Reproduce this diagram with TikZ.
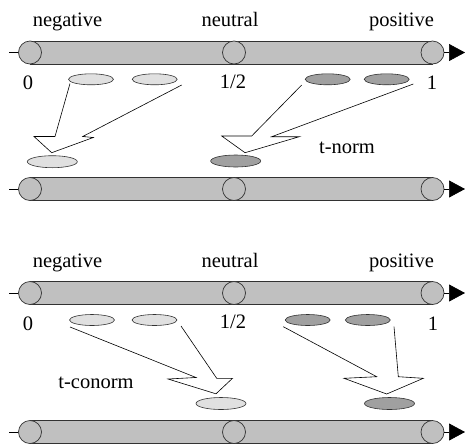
\documentclass[tikz,border=0pt]{standalone}
\usepackage{fontspec}
\setmainfont{Liberation Serif}
\usetikzlibrary{shapes.geometric,arrows.meta}
\definecolor{barfill}{RGB}{192,192,192}
\definecolor{lightfill}{RGB}{224,224,224}
\definecolor{darkfill}{RGB}{160,160,160}
\definecolor{edge}{RGB}{50,50,50}
\tikzset{
  capnode/.style={circle,draw=edge,fill=barfill,line width=0.7pt,minimum size=23pt,inner sep=0pt},
  lightell/.style={ellipse,draw=edge,fill=lightfill,line width=0.6pt,minimum width=45pt,minimum height=11pt,inner sep=0pt},
  darkell/.style={ellipse,draw=edge,fill=darkfill,line width=0.6pt,minimum width=45pt,minimum height=11pt,inner sep=0pt},
  lightbig/.style={lightell,minimum width=50pt,minimum height=12pt},
  darkbig/.style={darkell,minimum width=50pt,minimum height=12pt},
  lbl/.style={font=\fontsize{20.5}{23}\selectfont,inner sep=0pt,anchor=base},
  merge/.style={draw=black,line width=0.6pt,line join=miter},
  axisarrow/.style={draw=black,line width=0.7pt,-{Triangle[length=16pt,width=17pt]}}
}
\newcommand{\mybar}[2]{%
  \fill[barfill] (30,#2-11.5) rectangle (432.5,#2+11.5);
  \draw[edge,line width=0.7pt] (30,#2-11.5) -- (432.5,#2-11.5) (30,#2+11.5) -- (432.5,#2+11.5);
  \node[capnode] (#1l) at (30,#2) {};
  \node[capnode] (#1m) at (234,#2) {};
  \node[capnode] (#1r) at (432.5,#2) {};
  \coordinate (#1s) at (9,#2);
  \coordinate (#1e) at (465,#2);
  \draw[black,line width=0.7pt] (#1s) -- (#1l.west);
  \draw[axisarrow] (#1r.east) -- (#1e);
}
\begin{document}
\begin{tikzpicture}[x=1pt,y=-1pt]
\useasboundingbox (0,0) rectangle (465,445);
% ---------- section 1 (t-norm)
\node[lbl] (neg1) at (67.5,26) {negative};
\node[lbl] (neu1) at (230,26) {neutral};
\node[lbl] (pos1) at (401.5,26) {positive};
\mybar{ba}{52.5}
\node[lbl] (z1) at (28,89.5) {0};
\node[lbl] (h1) at (233,88) {1/2};
\node[lbl] (o1) at (432,89.5) {1};
\node[lightell] (a1) at (91,79.3) {};
\node[lightell] (a2) at (154.7,79.3) {};
\node[darkell] (a3) at (327.7,79.3) {};
\node[darkell] (a4) at (386.7,79.3) {};
\node[lightbig] (a5) at (52.3,161.7) {};
\node[darkbig] (a6) at (235.7,161) {};
\coordinate (m1s) at (70,83.5);
\coordinate (m1e) at (181.7,85);
\coordinate (m2s) at (301.7,85);
\coordinate (m2e) at (413.3,84);
\draw[merge] (m1s) -- (55,136.5) -- (34,136.5) -- (51.7,152.7) -- (93.3,137.5) -- (82.7,136.5) -- (m1e);
\draw[merge] (m2s) -- (251.7,136) -- (221.7,136) -- (245,152.7) -- (299.3,136.7) -- (271.7,136.7) -- (m2e);
\node[lbl] (tn) at (347,153.5) {t-norm};
\mybar{bb}{189}
% ---------- section 2 (t-conorm)
\node[lbl] (neg2) at (67.5,267) {negative};
\node[lbl] (neu2) at (230,267) {neutral};
\node[lbl] (pos2) at (401.5,267) {positive};
\mybar{bc}{293}
\node[lbl] (z2) at (28,330) {0};
\node[lbl] (h2) at (233,328.5) {1/2};
\node[lbl] (o2) at (433,330.5) {1};
\node[lightell] (c1) at (92,320) {};
\node[lightell] (c2) at (154.5,320) {};
\node[darkell] (c3) at (307.7,320) {};
\node[darkell] (c4) at (367.8,320) {};
\node[lightbig] (c5) at (221,403.5) {};
\node[darkbig] (c6) at (389.5,403.5) {};
\coordinate (n1s) at (70,327);
\coordinate (n1e) at (181,326);
\coordinate (n2s) at (283.3,326.7);
\coordinate (n2e) at (394,326.7);
\draw[merge] (n1s) -- (196,377.5) -- (168,379) -- (216,393.8) -- (232.5,378.3) -- (216.7,378.3) -- (n1e);
\draw[merge] (n2s) -- (376.7,376.7) -- (344,378.3) -- (386.7,394) -- (423.3,378.3) -- (398.3,376.7) -- (n2e);
\node[lbl] (tc) at (96,388.5) {t-conorm};
\mybar{bd}{432}
\end{tikzpicture}
\end{document}
